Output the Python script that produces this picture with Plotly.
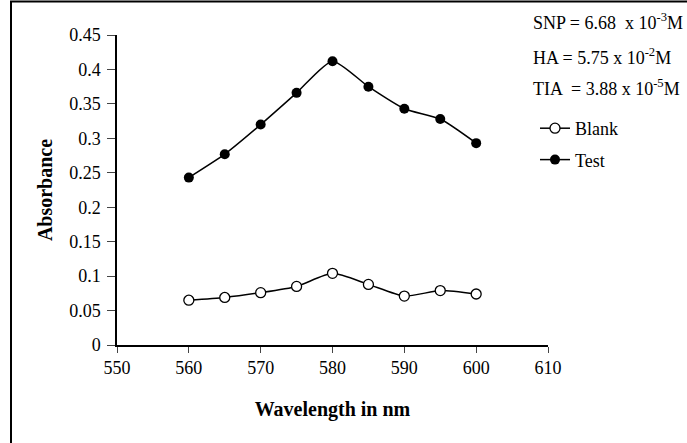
import plotly.graph_objects as go

wavelength = [560, 565, 570, 575, 580, 585, 590, 595, 600]
blank = [0.065, 0.069, 0.076, 0.085, 0.104, 0.088, 0.071, 0.079, 0.074]
test = [0.243, 0.277, 0.320, 0.366, 0.412, 0.375, 0.343, 0.328, 0.293]
x_ticks = [550, 560, 570, 580, 590, 600, 610]
y_ticks = [0, 0.05, 0.1, 0.15, 0.2, 0.25, 0.3, 0.35, 0.4, 0.45]
y_tick_labels = ["0", "0.05", "0.1", "0.15", "0.2", "0.25", "0.3", "0.35", "0.4", "0.45"]
notes = ["SNP = 6.68  x 10<sup>-3</sup>M", "HA = 5.75 x 10<sup>-2</sup>M", "TIA  = 3.88 x 10<sup>-5</sup>M"]

FONT = "Liberation Serif, Times New Roman, serif"
W, H = 687, 443
L, R, T, B = 117, 139, 35, 98
pw, ph = W - L - R, H - T - B

def px_x(p):
    return (p - L) / pw

def px_y(p):
    return 1 - (p - T) / ph

fig = go.Figure()
fig.add_trace(go.Scatter(
    x=wavelength, y=blank, name="Blank", mode="lines+markers",
    line=dict(color="black", width=1.5, shape="spline", smoothing=0.6),
    marker=dict(symbol="circle", size=10, color="white", line=dict(color="black", width=1.3)),
    legendgroup="a"))
fig.add_trace(go.Scatter(
    x=wavelength, y=test, name="Test", mode="lines+markers",
    line=dict(color="black", width=1.5, shape="spline", smoothing=0.6),
    marker=dict(symbol="circle", size=10, color="black"),
    legendgroup="b"))

for i, t in enumerate(notes):
    fig.add_annotation(text=t, xref="paper", yref="paper", x=px_x(531), y=px_y([21, 56, 88][i]),
                       xanchor="left", yanchor="middle", showarrow=False,
                       font=dict(family=FONT, size=18, color="black"))

# outer frame (only left and top edges visible in the reference)
fig.add_shape(type="line", xref="paper", yref="paper",
              x0=px_x(11), y0=px_y(1.5), x1=px_x(11), y1=px_y(H + 20),
              line=dict(color="black", width=2))
fig.add_shape(type="line", xref="paper", yref="paper",
              x0=px_x(10), y0=px_y(1.5), x1=px_x(W + 20), y1=px_y(1.5),
              line=dict(color="black", width=2))

fig.update_layout(
    width=W, height=H,
    margin=dict(l=L, r=R, t=T, b=B),
    paper_bgcolor="white", plot_bgcolor="white",
    font=dict(family=FONT, size=18, color="black"),
    showlegend=True,
    legend=dict(x=px_x(535), y=px_y(110), xanchor="left", yanchor="top",
                font=dict(family=FONT, size=18, color="black"),
                bgcolor="rgba(0,0,0,0)", tracegroupgap=5, traceorder="grouped"),
    xaxis=dict(range=[550, 610], tickvals=x_ticks, ticks="outside", ticklen=6,
               showline=True, linecolor="black", linewidth=1.5, showgrid=False, zeroline=False,
               tickfont=dict(family=FONT, size=18),
               title=dict(text="<b>Wavelength in nm</b>", font=dict(family=FONT, size=20), standoff=25)),
    yaxis=dict(range=[0, 0.45], tickvals=y_ticks, ticktext=y_tick_labels, ticks="outside", ticklen=8,
               ticklabelstandoff=3,
               showline=True, linecolor="black", linewidth=1.5, showgrid=False, zeroline=False,
               tickfont=dict(family=FONT, size=18),
               title=dict(text="<b>Absorbance</b>", font=dict(family=FONT, size=20), standoff=11)),
)

fig.write_html("out.html", config={"displayModeBar": False},
               post_script="document.body.style.margin='0px';document.body.style.overflow='hidden';")
